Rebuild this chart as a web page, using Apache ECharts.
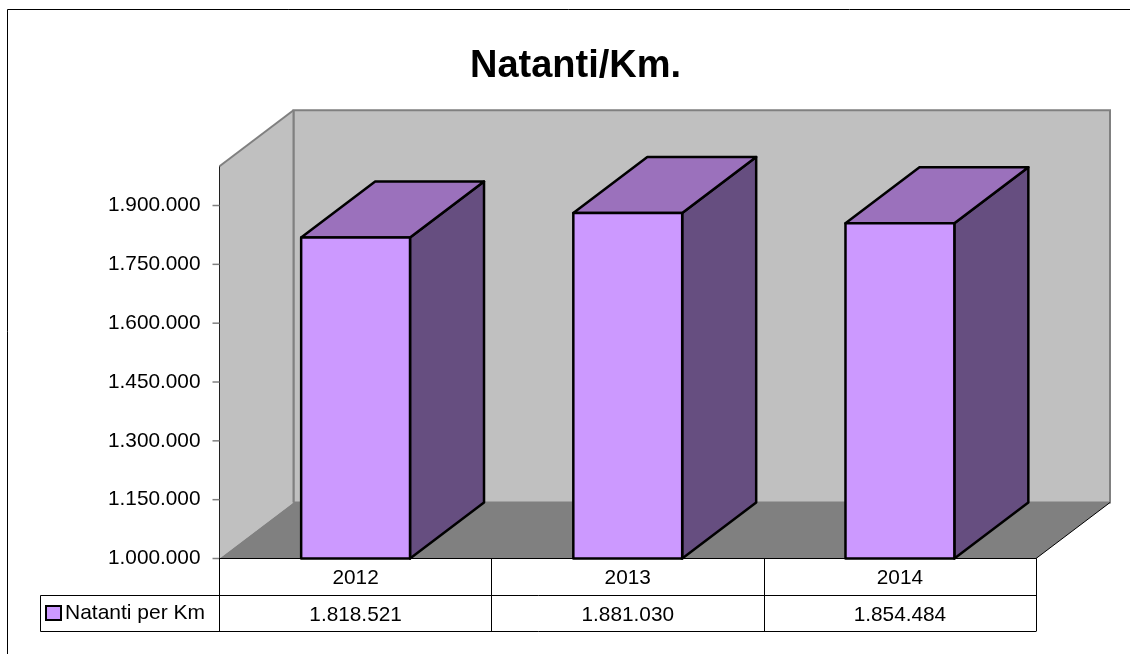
<!DOCTYPE html>
<html><head><meta charset="utf-8">
<style>html,body{margin:0;padding:0;background:#fff}#c{width:1130px;height:654px}</style>
<script src="https://cdn.jsdelivr.net/npm/echarts@6/dist/echarts.min.js"></script>
</head><body><div id="c"></div>
<script>
const titleText = 'Natanti/Km.';
const seriesName = 'Natanti per Km';
const categories = ['2012', '2013', '2014'];
const natantiPerKm = [1818521, 1881030, 1854484];
const yTicks = [1000000, 1150000, 1300000, 1450000, 1600000, 1750000, 1900000];

const FONT = '"Liberation Sans", Arial, sans-serif';
const DX = 74, DY = 56;             // oblique depth of the 3D box
const ROW1 = 37, ROW2 = 73;         // data-table row bottoms below the floor line
const LEGEND_LEFT = 40.5;
const TICK = 7;
const fmt = v => String(v).replace(/\B(?=(\d{3})+$)/g, '.');

const chart = echarts.init(document.getElementById('c'), null, {renderer: 'canvas'});

function renderFrame(params, api) {
  const c = params.coordSys;
  const l = c.x, r = c.x + c.width, t = c.y, b = c.y + c.height;
  const line = (x1, y1, x2, y2, stroke, w) => ({type: 'line', shape: {x1, y1, x2, y2},
    style: {stroke, lineWidth: w}});
  const ticks = yTicks.map(v => {
    const y = api.coord([0, v])[1];
    return line(l - TICK, y, l, y, '#808080', 1.5);
  });
  return {type: 'group', children: [
    {type: 'polygon', shape: {points: [[l + DX, t - DY], [r + DX, t - DY], [r + DX, b - DY], [l + DX, b - DY]]},
      style: {fill: '#C0C0C0', stroke: '#808080', lineWidth: 2}},
    {type: 'polygon', shape: {points: [[l, t], [l + DX, t - DY], [l + DX, b - DY], [l, b]]},
      style: {fill: '#C0C0C0'}},
    line(l, t, l + DX, t - DY, '#808080', 2),
    line(l + DX, t - DY, l + DX, b - DY, '#808080', 2),
    line(l, t, l, b, '#202020', 1),
    {type: 'polygon', shape: {points: [[l, b], [r, b], [r + DX, b - DY], [l + DX, b - DY]]},
      style: {fill: '#808080'}},
    line(r, b, r + DX, b - DY, '#000', 1),
    line(LEGEND_LEFT, b + ROW1, r, b + ROW1, '#000', 1),
    line(LEGEND_LEFT, b + ROW2, r, b + ROW2, '#000', 1),
    line(LEGEND_LEFT, b + ROW1, LEGEND_LEFT, b + ROW2, '#000', 1)
  ].concat(ticks)};
}

function renderBar(params, api) {
  const idx = api.value(0), val = api.value(1);
  const base = api.coord([idx, yTicks[0]]);
  const top = api.coord([idx, val]);
  const w = api.size([1, 0])[0] * 0.4;
  const xl = top[0] - w / 2, xr = top[0] + w / 2, yt = top[1], yb = base[1];
  const edge = {stroke: '#000', lineWidth: 2.5, lineJoin: 'round'};
  return {type: 'group', children: [
    {type: 'polygon', shape: {points: [[xr, yt], [xr + DX, yt - DY], [xr + DX, yb - DY], [xr, yb]]},
      style: Object.assign({fill: '#664E80'}, edge)},
    {type: 'polygon', shape: {points: [[xl, yt], [xl + DX, yt - DY], [xr + DX, yt - DY], [xr, yt]]},
      style: Object.assign({fill: '#9B71BC'}, edge)},
    {type: 'polygon', shape: {points: [[xl, yt], [xr, yt], [xr, yb], [xl, yb]]},
      style: Object.assign({fill: '#CC99FF'}, edge)},
    {type: 'text', style: {text: fmt(val), x: top[0], y: yb + (ROW1 + ROW2) / 2 + 1.5,
      align: 'center', verticalAlign: 'middle', font: '20.8px ' + FONT, fill: '#000'}}
  ]};
}

chart.setOption({
  animation: false,
  backgroundColor: '#fff',
  title: {text: titleText, left: 570.5, top: 43, textAlign: 'center',
    textStyle: {fontFamily: FONT, fontSize: 38, fontWeight: 'bold', color: '#000'}},
  legend: {
    left: 45, top: 602.5, padding: 0, orient: 'horizontal', selectedMode: false,
    itemWidth: 15, itemHeight: 14, itemGap: 0,
    textStyle: {fontFamily: FONT, fontSize: 21, color: '#000', padding: [0, 0, 0, -1]},
    data: [{name: seriesName, icon: 'rect',
      itemStyle: {color: '#CC99FF', borderColor: '#000', borderWidth: 2}}]
  },
  grid: {left: 219.5, top: 166.3, width: 816.5, height: 392.2},
  xAxis: {
    type: 'category', data: categories, z: 3,
    axisLine: {lineStyle: {color: '#000', width: 1}},
    axisTick: {show: true, length: ROW2, alignWithLabel: false, lineStyle: {color: '#000', width: 1}},
    axisLabel: {fontFamily: FONT, fontSize: 20.8, color: '#000', margin: 9},
    splitLine: {show: false}
  },
  yAxis: {
    type: 'value', min: 1000000, max: 2000000, z: 3,
    axisLine: {show: false},
    axisTick: {show: false},
    axisLabel: {customValues: yTicks, formatter: v => fmt(v), fontFamily: FONT, fontSize: 20.8, color: '#000', margin: 19, padding: [2, 0, 0, 0]},
    splitLine: {show: false}
  },
  graphic: [{type: 'polyline', silent: true, z: 0,
    shape: {points: [[7.5, 654], [7.5, 9.5], [1130, 9.5]]},
    style: {stroke: '#000', lineWidth: 1, fill: null}}],
  series: [
    {type: 'custom', name: 'frame', coordinateSystem: 'cartesian2d', z: 1, silent: true,
      data: [[0, yTicks[0]]], renderItem: renderFrame},
    {type: 'custom', name: seriesName, coordinateSystem: 'cartesian2d', z: 5, silent: true,
      itemStyle: {color: '#CC99FF'},
      data: categories.map((c, i) => [i, natantiPerKm[i]]),
      encode: {x: 0, y: 1}, renderItem: renderBar}
  ]
});
</script></body></html>
